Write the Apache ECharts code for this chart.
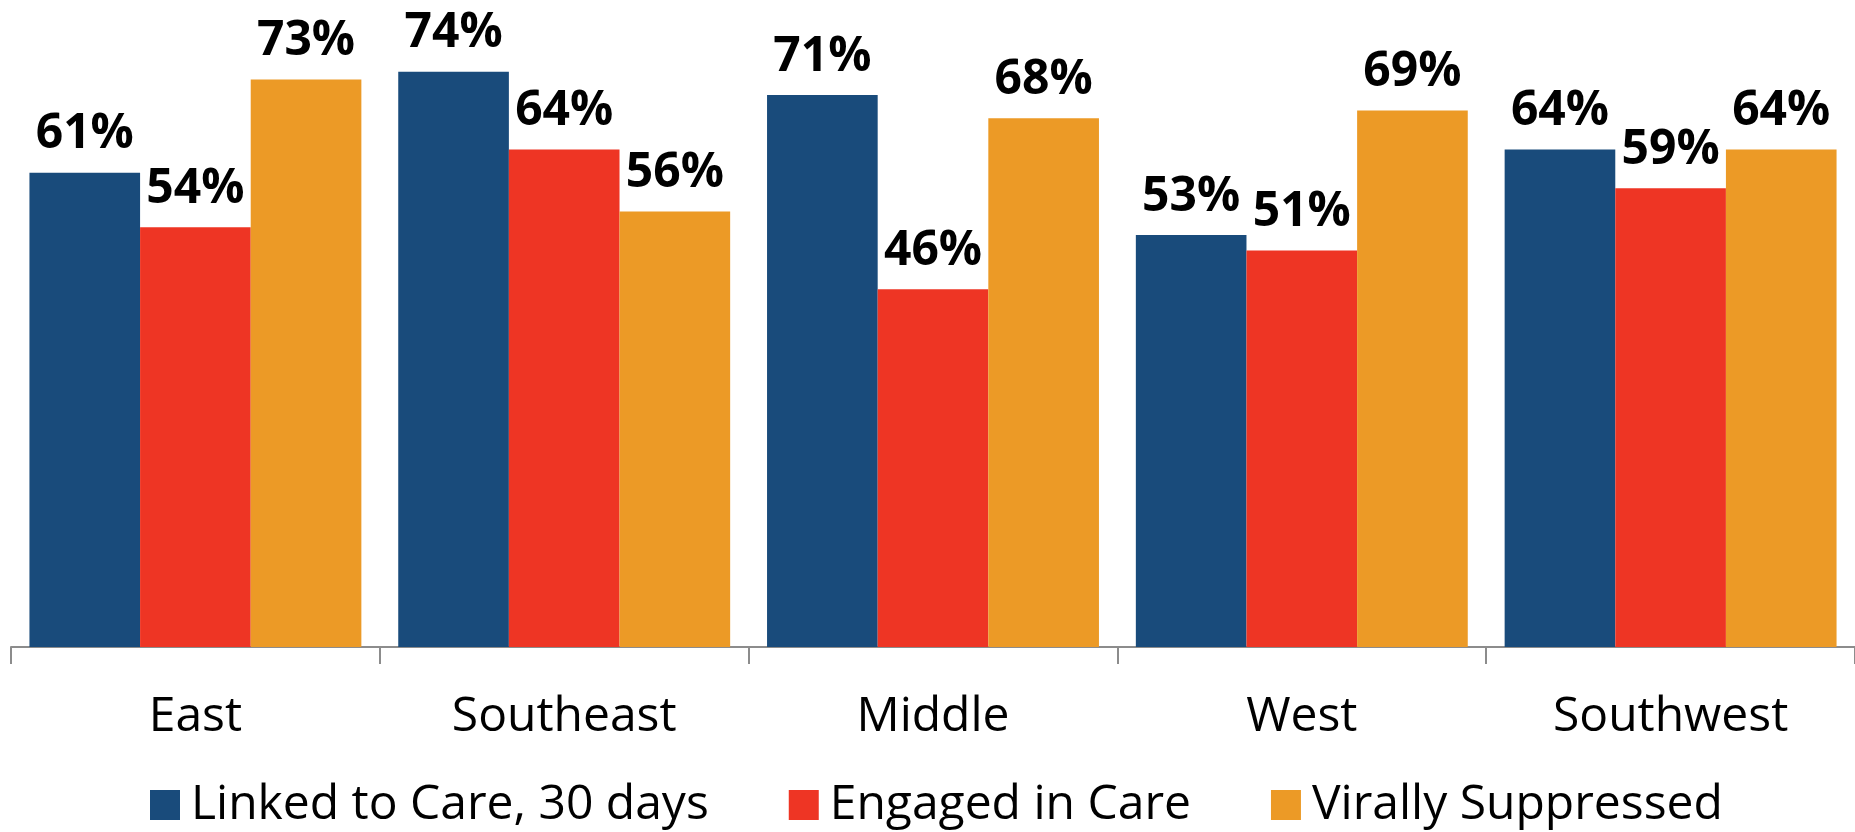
<!DOCTYPE html>
<html>
<head>
<meta charset="utf-8">
<script src="https://cdn.jsdelivr.net/npm/echarts@6/dist/echarts.min.js"></script>
<style>
html,body{margin:0;padding:0;background:#fff;}
#chart{width:1855px;height:832px;}
</style>
</head>
<body>
<div id="chart"></div>
<script>
const categories = ['East', 'Southeast', 'Middle', 'West', 'Southwest'];
const seriesNames = ['Linked to Care, 30 days', 'Engaged in Care', 'Virally Suppressed'];
const linkedToCare = [61, 74, 71, 53, 64];
const engagedInCare = [54, 64, 46, 51, 59];
const virallySuppressed = [73, 56, 68, 69, 64];
const colors = ['#194B7B', '#EE3524', '#EC9A26'];

const chart = echarts.init(document.getElementById('chart'));
const font = '"Open Sans", "Noto Sans", sans-serif';
function mk(name, data, color) {
  return {
    name: name,
    type: 'bar',
    data: data,
    barGap: '0%',
    barCategoryGap: '10%',
    itemStyle: { color: color },
    label: {
      show: true,
      position: 'top',
      distance: 14,
      formatter: '{c}%',
      fontFamily: font,
      fontWeight: 'bold',
      fontSize: 48,
      color: '#000'
    }
  };
}
chart.setOption({
  animation: false,
  textStyle: { fontFamily: font },
  grid: { left: 11, right: 0, top: 25, bottom: 185 },
  legend: {
    data: seriesNames,
    bottom: 3,
    padding: 0,
    left: 150,
    itemWidth: 30,
    itemHeight: 30,
    itemGap: 80,
    icon: 'rect',
    textStyle: { fontFamily: font, fontSize: 48, color: '#000', padding: [0, 0, 0, 6] }
  },
  xAxis: {
    type: 'category',
    data: categories,
    axisLine: { lineStyle: { color: '#8c8c8c', width: 2 } },
    axisTick: { show: true, length: 17, lineStyle: { color: '#8c8c8c', width: 2 } },
    axisLabel: { fontFamily: font, fontSize: 48, color: '#000', margin: 46 }
  },
  yAxis: {
    type: 'value',
    min: 0,
    max: 80,
    show: false,
    splitLine: { show: false }
  },
  series: [
    mk(seriesNames[0], linkedToCare, colors[0]),
    mk(seriesNames[1], engagedInCare, colors[1]),
    mk(seriesNames[2], virallySuppressed, colors[2])
  ]
});
</script>
</body>
</html>
